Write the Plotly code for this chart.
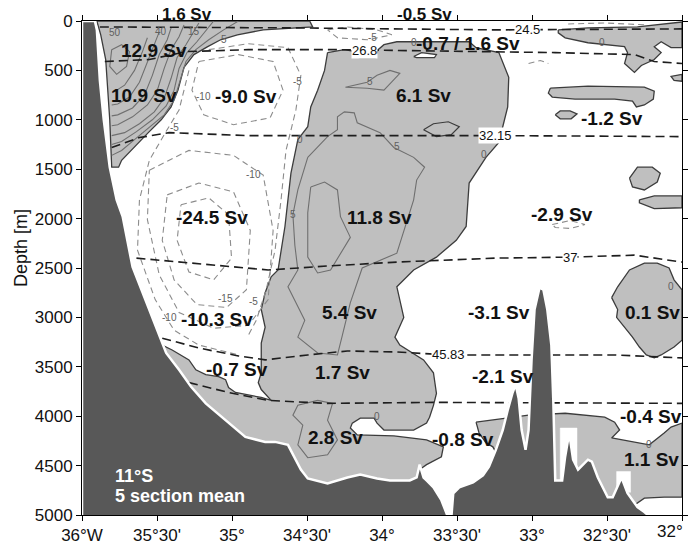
import plotly.graph_objects as go

# ---------------- axes ----------------
XTICK_VALS = [-36, -35.5, -35, -34.5, -34, -33.5, -33, -32.5, -32]
XTICK_TEXT = ["36°W", "35°30'", "35°", "34°30'", "34°", "33°30'", "33°", "32°30'", "32°"]
YTICK_VALS = [0, 500, 1000, 1500, 2000, 2500, 3000, 3500, 4000, 4500, 5000]

# ---------------- bathymetry (lon, depth m) ----------------
BATHY_LON = [-36.000, -35.914, -35.901, -35.881, -35.855, -35.815, -35.769, -35.729, -35.663, -35.571,
             -35.485, -35.439, -35.353, -35.274, -35.175, -35.043, -34.911, -34.779, -34.713, -34.627,
             -34.541, -34.495, -34.363, -34.231, -34.145, -34.033, -33.947, -33.815, -33.769, -33.749,
             -33.723, -33.703, -33.657, -33.604, -33.571, -33.558, -33.538, -33.525, -33.485, -33.393,
             -33.327, -33.287, -33.241, -33.195, -33.162, -33.129, -33.109, -33.089, -33.069, -33.043,
             -33.023, -33.003, -32.983, -32.950, -32.924, -32.898, -32.871, -32.858, -32.845, -32.799,
             -32.779, -32.752, -32.726, -32.693, -32.627, -32.601, -32.561, -32.495, -32.462, -32.403,
             -32.363, -32.297, -32.251, -32.205, -32.000, -36.000]
BATHY_DEPTH = [0, 0, 90, 600, 1000, 1480, 1810, 1980, 2490, 2850,
               3200, 3360, 3530, 3700, 3870, 4040, 4210, 4260, 4260, 4290,
               4540, 4630, 4680, 4620, 4590, 4630, 4650, 4650, 4620, 4490,
               4620, 4650, 4720, 4850, 4980, 5030, 5030, 4780, 4720, 4670,
               4600, 4510, 4340, 4140, 3940, 3760, 3680, 3820, 4140, 4340,
               4140, 3430, 2920, 2700, 2720, 2920, 3280, 3840, 4650, 4650,
               4410, 4170, 4440, 4540, 4440, 4460, 4620, 4820, 4820, 4620,
               4780, 4920, 4970, 5030, 5030, 5030]

# ---------------- positive-flow regions (grey) ----------------
REG_A_LON = [-35.901, -34.482, -34.462, -34.594, -34.792, -34.964, -35.076, -35.162, -35.254, -35.320,
             -35.360, -35.406, -35.472, -35.558, -35.624, -35.690, -35.736, -35.756, -35.802, -35.815,
             -35.842, -35.875, -35.894]
REG_A_DEPTH = [0, 0, 60, 70, 90, 140, 190, 260, 340, 470,
               700, 870, 1000, 1130, 1230, 1340, 1410, 1480, 1480, 1000,
               390, 140, 40]

REG_B_LON = [-34.363, -34.251, -34.178, -34.152, -34.046, -34.026, -33.987, -33.901, -33.789, -33.419,
             -33.373, -33.221, -33.155, -33.162, -33.195, -33.221, -33.307, -33.419, -33.439, -33.505,
             -33.637, -33.789, -33.901, -33.855, -33.914, -33.881, -33.723, -33.657, -33.637, -33.657,
             -33.683, -33.703, -33.789, -33.987, -34.033, -34.053, -34.145, -34.198, -34.211, -34.165,
             -33.921, -33.703, -33.591, -33.604, -33.703, -33.749, -33.749, -34.363, -34.891, -35.551,
             -35.551, -35.465, -35.399, -35.287, -35.241, -35.175, -35.089, -35.043, -35.023, -34.977,
             -34.805, -34.739, -34.805, -34.825, -34.805, -34.805, -34.805, -34.779, -34.805, -34.779,
             -34.739, -34.693, -34.647, -34.607, -34.561, -34.495, -34.475, -34.429, -34.383]
REG_B_DEPTH = [320, 290, 310, 370, 370, 290, 240, 210, 210, 210,
               270, 320, 570, 870, 1070, 1230, 1380, 1640, 2080, 2220,
               2390, 2520, 2690, 3000, 3200, 3280, 3430, 3560, 3770, 3890,
               4010, 4070, 4140, 4140, 4070, 4020, 4020, 4070, 4120, 4190,
               4200, 4240, 4310, 4410, 4490, 4540, 4750, 4800, 4340, 3430,
               3280, 3280, 3330, 3430, 3530, 3580, 3600, 3630, 3710, 3760,
               3810, 3840, 3730, 3660, 3560, 3430, 3260, 3100, 2920, 2750,
               2590, 2520, 2080, 1540, 1200, 1070, 870, 700, 500]

ISL_C_LON = [-32.825, -32.627, -32.297, -32.033, -32.000, -32.000, -32.073, -32.139, -32.185, -32.139,
             -32.185, -32.271, -32.317, -32.383, -32.363, -32.383, -32.515, -32.627, -32.779, -32.825]
ISL_C_DEPTH = [90, 70, 60, 20, 10, 270, 270, 210, 260, 320,
               390, 450, 520, 430, 320, 260, 240, 220, 170, 120]
ISL_C2_LON = [-32.000, -32.073, -32.053, -32.000]
ISL_C2_DEPTH = [540, 560, 600, 610]
ISL_D_LON = [-32.878, -32.627, -32.251, -32.185, -32.191, -32.251, -32.304, -32.330, -32.449, -32.713, -32.865, -32.891]
ISL_D_DEPTH = [680, 660, 670, 710, 790, 850, 870, 810, 790, 790, 770, 730]
ISL_E_LON = [-32.845, -32.812, -32.746, -32.700, -32.739, -32.812]
ISL_E_DEPTH = [950, 910, 910, 940, 990, 990]
ISL_F_LON = [-32.350, -32.297, -32.198, -32.145, -32.165, -32.251, -32.330]
ISL_F_DEPTH = [1590, 1480, 1480, 1540, 1630, 1710, 1680]
ISL_G_LON = [-32.284, -32.185, -32.000, -32.000, -32.185, -32.284]
ISL_G_DEPTH = [1810, 1770, 1770, 1890, 1900, 1840]
ISL_H_LON = [-32.469, -32.429, -32.350, -32.251, -32.165, -32.086, -32.053, -32.000, -32.000, -32.053,
             -32.139, -32.185, -32.238, -32.284, -32.330, -32.383, -32.436, -32.429]
ISL_H_DEPTH = [2800, 2690, 2520, 2450, 2450, 2500, 2620, 2720, 3230, 3300,
               3380, 3410, 3380, 3300, 3200, 3100, 3000, 2920]
ISL_I_LON = [-33.373, -33.221, -33.023, -32.779, -32.515, -32.449, -32.416, -32.469, -32.337, -32.218,
             -32.119, -32.073, -32.000, -32.000, -32.119, -32.251, -32.317, -32.581, -32.845, -33.043,
             -33.175, -33.261, -33.307, -33.353]
ISL_I_DEPTH = [4060, 4030, 3990, 3970, 4010, 4060, 4140, 4220, 4260, 4290,
               4170, 4110, 4070, 4820, 4820, 4830, 4900, 4900, 4850, 4650,
               4540, 4310, 4270, 4170]

# white gaps of the gridded field next to the seamounts
GAP1_LON = [-32.812, -32.700, -32.700, -32.812]
GAP1_DEPTH = [4120, 4120, 4660, 4660]
GAP2_LON = [-32.436, -32.343, -32.343, -32.436]
GAP2_DEPTH = [4560, 4560, 4770, 4770]
HOLE_LON = [-33.789, -33.736, -33.637, -33.650, -33.769]
HOLE_DEPTH = [360, 320, 340, 370, 370]

# ---------------- positive velocity contours (cm/s), solid ----------------
C5_LON = [-34.957, -35.056, -35.155, -35.241, -35.307, -35.347, -35.386, -35.452, -35.551, -35.650, -35.736, -35.802]
C5_DEPTH = [0, 90, 190, 290, 410, 600, 800, 950, 1080, 1200, 1310, 1360]
C10_LON = [-35.122, -35.168, -35.234, -35.300, -35.353, -35.386, -35.439, -35.531, -35.637, -35.736, -35.802]
C10_DEPTH = [0, 90, 210, 320, 480, 700, 860, 1000, 1120, 1220, 1250]
C15_LON = [-35.221, -35.254, -35.307, -35.366, -35.406, -35.452, -35.518, -35.617, -35.716, -35.802]
C15_DEPTH = [20, 110, 240, 370, 580, 780, 920, 1040, 1130, 1160]
C20_LON = [-35.320, -35.353, -35.406, -35.452, -35.498, -35.564, -35.663, -35.762, -35.802]
C20_DEPTH = [40, 160, 290, 480, 700, 850, 970, 1050, 1060]
C25_LON = [-35.406, -35.432, -35.485, -35.531, -35.584, -35.663, -35.762, -35.802]
C25_DEPTH = [70, 190, 340, 550, 750, 880, 950, 960]
C30_LON = [-35.485, -35.518, -35.564, -35.617, -35.683, -35.762, -35.802]
C30_DEPTH = [110, 240, 410, 620, 770, 840, 850]
C40_LON = [-35.564, -35.597, -35.650, -35.716, -35.789]
C40_DEPTH = [170, 310, 500, 650, 720]
C50_LON = [-35.802, -35.736, -35.683, -35.703, -35.769, -35.815, -35.802]
C50_DEPTH = [290, 240, 310, 460, 540, 460, 290]
C5A_LON = [-34.495, -34.363, -34.297, -34.297, -34.251, -34.185, -34.165, -34.013, -33.921, -33.789,
           -33.716, -33.769, -33.789, -33.855, -33.901, -34.132, -34.211, -34.264, -34.297, -34.429,
           -34.561, -34.515, -34.627, -34.561, -34.581, -34.594, -34.561, -34.495]
C5A_DEPTH = [1380, 1170, 1100, 970, 920, 930, 1030, 1130, 1280, 1380,
             1480, 1610, 1810, 2120, 2350, 2500, 2850, 3180, 3380, 3360,
             3200, 3030, 2690, 2520, 2270, 1960, 1710, 1380]
C5B_LON = [-34.475, -34.383, -34.297, -34.277, -34.211, -34.277, -34.343, -34.429, -34.495, -34.495, -34.475]
C5B_DEPTH = [1680, 1630, 1710, 1980, 2190, 2350, 2520, 2550, 2390, 1940, 1680]
C5C_LON = [-34.244, -34.099, -34.033, -33.947, -33.881, -33.947, -33.987, -34.099, -34.244]
C5C_DEPTH = [670, 620, 550, 500, 530, 630, 700, 680, 670]
C0D_LON = [-33.723, -33.657, -33.558, -33.485, -33.538, -33.637, -33.723]
C0D_DEPTH = [1100, 1040, 1020, 1070, 1150, 1170, 1100]
C5E_LON = [-34.429, -34.330, -34.363, -34.297, -34.363, -34.495, -34.561, -34.528, -34.594, -34.561, -34.429]
C5E_DEPTH = [3840, 3870, 4040, 4240, 4390, 4420, 4290, 4090, 3990, 3890, 3840]

# ---------------- negative velocity contours, dashed ----------------
N1_LON = [-35.155, -34.891, -34.627, -34.541, -34.574, -34.640, -34.673, -34.713, -34.772, -34.838, -34.891]
N1_DEPTH = [290, 230, 270, 550, 900, 1310, 1810, 2320, 2720, 3030, 3180]
N2_LON = [-35.287, -35.353, -35.452, -35.551, -35.617, -35.630, -35.512, -35.386, -35.221, -34.957]
N2_DEPTH = [500, 900, 1150, 1410, 1810, 2320, 2820, 3130, 3280, 3380]
N3_LON = [-35.221, -34.957, -34.726, -34.660, -34.746, -34.990, -35.188, -35.267, -35.221]
N3_DEPTH = [410, 340, 410, 700, 980, 1050, 950, 700, 410]
N4_LON = [-35.551, -35.287, -34.990, -34.792, -34.726, -34.759, -34.891, -35.122, -35.353, -35.485, -35.564, -35.551]
N4_DEPTH = [1510, 1310, 1360, 1560, 2120, 2820, 3080, 3110, 2950, 2570, 2010, 1510]
N5_LON = [-35.432, -35.221, -34.990, -34.878, -34.904, -35.036, -35.234, -35.386, -35.465, -35.432]
N5_DEPTH = [1760, 1640, 1730, 2120, 2720, 2900, 2870, 2620, 2220, 1760]
N6_LON = [-35.340, -35.155, -35.023, -35.003, -35.122, -35.287, -35.366, -35.340]
N6_DEPTH = [1860, 1790, 1960, 2400, 2620, 2540, 2220, 1860]
N7_LON = [-34.363, -34.231, -34.033, -33.934, -34.099, -34.297, -34.363]
N7_DEPTH = [90, 60, 90, 140, 190, 170, 90]
N8_LON = [-32.759, -32.515, -32.231]
N8_DEPTH = [30, 20, 40]
N9_LON = [-33.023, -32.944, -32.891]
N9_DEPTH = [430, 400, 430]
N10_LON = [-32.865, -32.746, -32.647, -32.746, -32.845, -32.865]
N10_DEPTH = [2060, 2020, 2060, 2100, 2090, 2060]

# ---------------- isopycnals (dashed black) ----------------
ISO_24_LON = [-35.881, -34.561, -33.241, -32.000]
ISO_24_DEPTH = [60, 70, 90, 80]
ISO_26_LON = [-35.848, -35.551, -35.307, -34.891, -34.297, -33.373, -32.845, -32.317, -32.185, -32.000]
ISO_26_DEPTH = [410, 390, 310, 290, 290, 310, 320, 340, 410, 430]
ISO_32_LON = [-35.802, -35.617, -35.419, -34.891, -33.901, -33.241, -32.000]
ISO_32_DEPTH = [1280, 1180, 1130, 1160, 1160, 1160, 1170]
ISO_37_LON = [-35.637, -35.221, -34.759, -34.363, -33.901, -33.241, -32.746, -32.317, -32.000]
ISO_37_DEPTH = [2400, 2460, 2520, 2480, 2440, 2400, 2390, 2370, 2440]
ISO_45_LON = [-35.465, -35.221, -34.957, -34.779, -34.495, -34.231, -33.901, -33.558, -32.911, -32.449, -32.000]
ISO_45_DEPTH = [3210, 3310, 3390, 3430, 3380, 3340, 3350, 3380, 3380, 3380, 3410]
ISO_DEEP_LON = [-35.287, -35.023, -34.759, -34.363, -33.637, -32.000]
ISO_DEEP_DEPTH = [3660, 3760, 3840, 3870, 3860, 3870]

ISO_LABELS = ["24.5", "26.8", "32.15", "37", "45.83"]
ISO_LABEL_LON = [-33.03, -34.119, -33.241, -32.746, -33.558]
ISO_LABEL_DEPTH = [85, 300, 1160, 2390, 3380]

# ---------------- transports ----------------
SV_TEXT = ["12.9 Sv", "10.9 Sv", "-9.0 Sv", "-0.7 / 1.6 Sv", "6.1 Sv", "-1.2 Sv",
           "-24.5 Sv", "11.8 Sv", "-2.9 Sv", "-10.3 Sv", "5.4 Sv", "-3.1 Sv", "0.1 Sv", "-0.7 Sv",
           "1.7 Sv", "-2.1 Sv", "-0.4 Sv", "2.8 Sv", "-0.8 Sv", "1.1 Sv"]
SV_LON = [-35.518, -35.584, -34.904, -33.426, -33.723, -32.469,
          -35.135, -34.020, -32.799, -35.102, -34.218, -33.221, -32.198, -34.970,
          -34.264, -33.195, -32.205, -34.310, -33.459, -32.205]
SV_DEPTH = [300, 749, 769, 225, 749, 982,
            1984, 1984, 1963, 3026, 2955, 2955, 2955, 3532,
            3562, 3603, 4008, 4220, 4240, 4443]
# surface transports written above the frame
TOP_SV_TEXT = ["1.6 Sv", "-0.5 Sv"]
TOP_SV_LON = [-35.300, -33.716]

# ---------------- contour labels ----------------
CL_TEXT = ["50", "40", "15", "5", "-5", "-10", "-5", "-10", "5", "5", "5", "0", "0", "0", "0",
           "0", "0", "0", "-10", "-15", "-5", "-5"]
CL_LON = [-35.782, -35.472, -35.254, -35.056, -34.561, -35.188, -35.386, -34.858, -34.594, -34.079,
          -33.901, -34.548, -33.320, -33.789, -32.535, -34.033, -32.218, -32.073, -35.419, -35.043,
          -34.860, -34.066]
CL_DEPTH = [121, 110, 111, 192, 617, 769, 1073, 1558, 1963, 617,
            1275, 1204, 1356, 213, 213, 4008, 4291, 2692, 2996, 2810,
            2840, 162]

DARK = "#585858"
LIGHT = "#bfbfbf"
EDGE = "#3c3c3c"
CGREY = "#6f6f6f"
NGREY = "#8c8c8c"
FONT = "Liberation Sans, Arial, sans-serif"

fig = go.Figure()


def closed(a):
    return list(a) + [a[0]]


def region(lon, dep, fill, line_color, width):
    fig.add_trace(go.Scatter(x=closed(lon), y=closed(dep), mode="lines", fill="toself",
                             fillcolor=fill, line=dict(color=line_color, width=width),
                             hoverinfo="skip", showlegend=False))


def line(lon, dep, color, width, dash=None):
    fig.add_trace(go.Scatter(x=lon, y=dep, mode="lines",
                             line=dict(color=color, width=width, dash=dash),
                             hoverinfo="skip", showlegend=False))


for lon, dep in [(REG_A_LON, REG_A_DEPTH), (REG_B_LON, REG_B_DEPTH), (ISL_C_LON, ISL_C_DEPTH),
                 (ISL_C2_LON, ISL_C2_DEPTH), (ISL_D_LON, ISL_D_DEPTH), (ISL_E_LON, ISL_E_DEPTH),
                 (ISL_F_LON, ISL_F_DEPTH), (ISL_G_LON, ISL_G_DEPTH), (ISL_H_LON, ISL_H_DEPTH),
                 (ISL_I_LON, ISL_I_DEPTH)]:
    region(lon, dep, LIGHT, EDGE, 1.3)

for lon, dep in [(GAP1_LON, GAP1_DEPTH), (GAP2_LON, GAP2_DEPTH)]:
    region(lon, dep, "white", "white", 0.5)
region(HOLE_LON, HOLE_DEPTH, "white", EDGE, 1.2)

for lon, dep in [(C5_LON, C5_DEPTH), (C10_LON, C10_DEPTH), (C15_LON, C15_DEPTH), (C20_LON, C20_DEPTH),
                 (C25_LON, C25_DEPTH), (C30_LON, C30_DEPTH), (C40_LON, C40_DEPTH), (C50_LON, C50_DEPTH),
                 (C5A_LON, C5A_DEPTH), (C5B_LON, C5B_DEPTH), (C5C_LON, C5C_DEPTH), (C5E_LON, C5E_DEPTH)]:
    line(lon, dep, CGREY, 1.1)
line(closed(C0D_LON), closed(C0D_DEPTH), EDGE, 1.2)

for lon, dep in [(N1_LON, N1_DEPTH), (N2_LON, N2_DEPTH), (N3_LON, N3_DEPTH), (N4_LON, N4_DEPTH),
                 (N5_LON, N5_DEPTH), (N6_LON, N6_DEPTH), (N7_LON, N7_DEPTH), (N8_LON, N8_DEPTH),
                 (N9_LON, N9_DEPTH), (N10_LON, N10_DEPTH)]:
    line(lon, dep, NGREY, 1.1, "6px,4px")

for lon, dep in [(ISO_24_LON, ISO_24_DEPTH), (ISO_26_LON, ISO_26_DEPTH), (ISO_32_LON, ISO_32_DEPTH),
                 (ISO_37_LON, ISO_37_DEPTH), (ISO_45_LON, ISO_45_DEPTH), (ISO_DEEP_LON, ISO_DEEP_DEPTH)]:
    line(lon, dep, "#1e1e1e", 1.6, "9px,5px")

# bathymetry on top
region(BATHY_LON, BATHY_DEPTH, DARK, "white", 2.5)

ann = []
for t, x, y in zip(SV_TEXT, SV_LON, SV_DEPTH):
    ann.append(dict(x=x, y=y, xref="x", yref="y", text="<b>%s</b>" % t, showarrow=False,
                    font=dict(family=FONT, size=19, color="#111")))
for t, x in zip(TOP_SV_TEXT, TOP_SV_LON):
    ann.append(dict(x=x, y=1.013, xref="x", yref="paper", xanchor="center", yanchor="middle",
                    text="<b>%s</b>" % t, showarrow=False,
                    font=dict(family=FONT, size=17, color="#111")))
for t, x, y in zip(ISO_LABELS, ISO_LABEL_LON, ISO_LABEL_DEPTH):
    ann.append(dict(x=x, y=y, xref="x", yref="y", text=t, showarrow=False, bgcolor="white",
                    borderpad=0, font=dict(family=FONT, size=13, color="#111")))
for t, x, y in zip(CL_TEXT, CL_LON, CL_DEPTH):
    ann.append(dict(x=x, y=y, xref="x", yref="y", text=t, showarrow=False,
                    font=dict(family=FONT, size=10, color="#606060")))
ann.append(dict(x=-35.795, y=4610, xref="x", yref="y", xanchor="left", text="<b>11°S</b>",
                showarrow=False, font=dict(family=FONT, size=18, color="white")))
ann.append(dict(x=-35.795, y=4810, xref="x", yref="y", xanchor="left", text="<b>5 section mean</b>",
                showarrow=False, font=dict(family=FONT, size=18, color="white")))
ann.append(dict(x=-0.102, y=0.54, xref="paper", yref="paper", xanchor="center", yanchor="middle",
                text="Depth [m]", textangle=-90,
                showarrow=False, font=dict(family=FONT, size=18, color="#111")))
# last x tick label, kept inside the canvas
ann.append(dict(x=1.0045, y=-0.033, xref="paper", yref="paper", xanchor="right", yanchor="middle",
                text="32°", showarrow=False, font=dict(family=FONT, size=17, color="#111")))

axis_common = dict(showline=True, linecolor="black", linewidth=1, mirror="ticks", ticks="outside",
                   ticklen=5, tickcolor="black", showgrid=False, zeroline=False,
                   tickfont=dict(family=FONT, size=17, color="#111"))

fig.update_layout(
    width=691, height=548,
    margin=dict(l=82, r=3, t=21, b=33),
    plot_bgcolor="white", paper_bgcolor="white",
    xaxis=dict(range=[-36, -32], tickvals=XTICK_VALS, ticktext=XTICK_TEXT, **axis_common),
    yaxis=dict(range=[5000, 0], tickvals=YTICK_VALS, **axis_common),
    annotations=ann,
    showlegend=False,
)

fig.write_html("out.html")
